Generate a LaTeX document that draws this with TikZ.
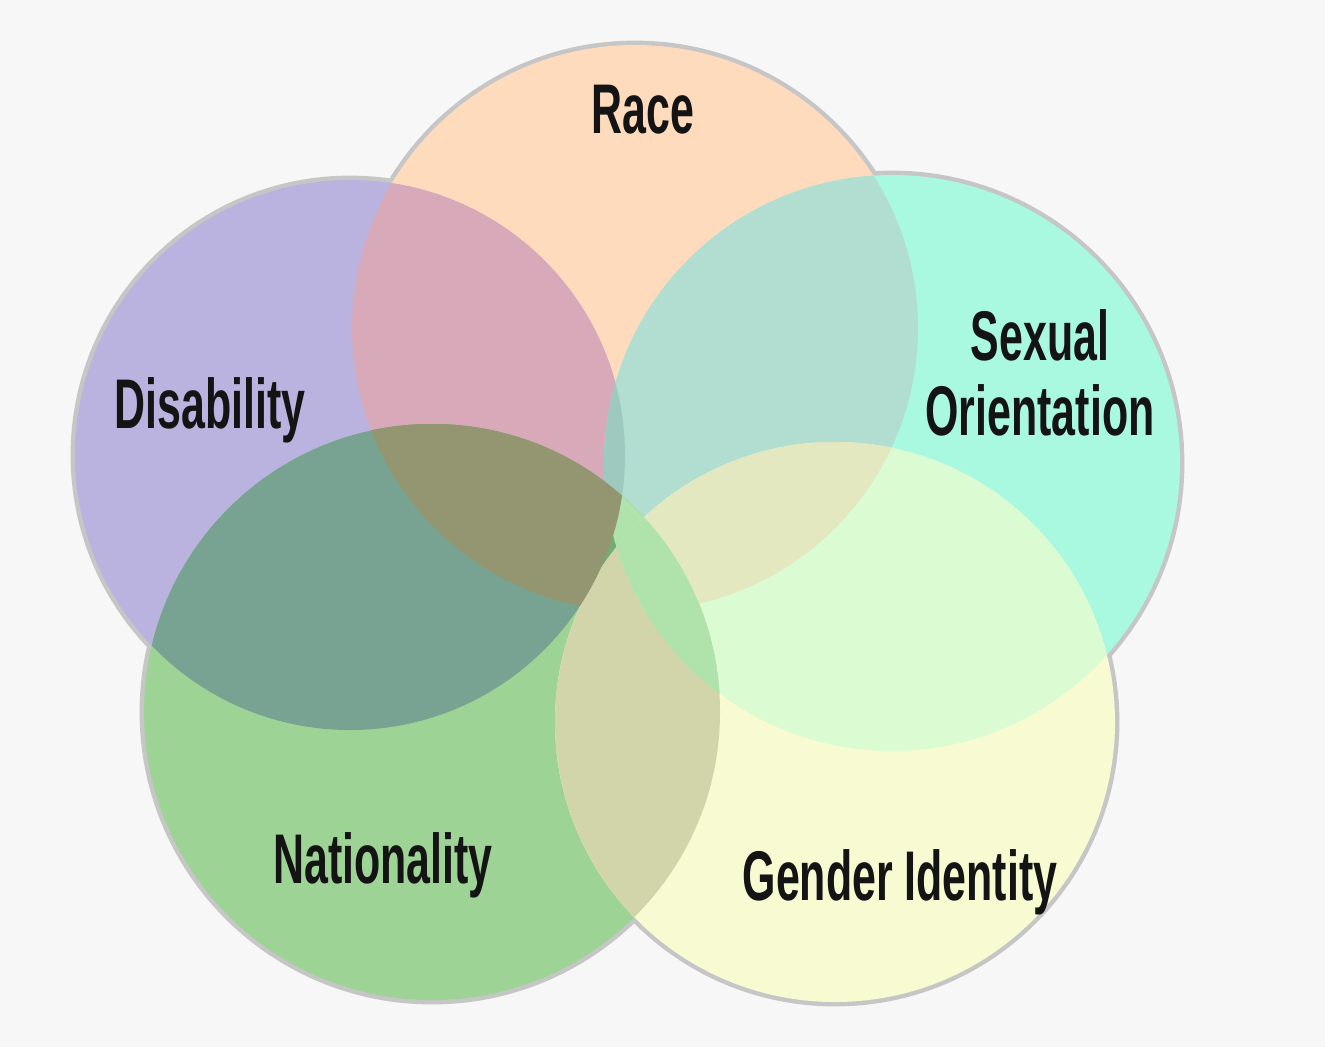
\documentclass[tikz,border=0pt]{standalone}
\usepackage{fontspec}
\newfontfamily\vennfont[FakeStretch=0.61]{Liberation Sans}
\definecolor{bgcol}{HTML}{F7F7F7}
\definecolor{rimcol}{HTML}{C6C6C6}
\definecolor{labelcol}{HTML}{141414}
% single sets
\definecolor{racecol}{HTML}{FEDBBD}
\definecolor{discol}{HTML}{BAB3E0}
\definecolor{sexcol}{HTML}{A9F8E0}
\definecolor{natcol}{HTML}{9ED396}
\definecolor{gencol}{HTML}{F8FBD2}
% overlaps
\definecolor{rdcol}{HTML}{D8A9B9}
\definecolor{rscol}{HTML}{B2DED2}
\definecolor{dncol}{HTML}{78A392}
\definecolor{rncol}{HTML}{72AE74}
\definecolor{rgcol}{HTML}{E4E8C0}
\definecolor{ngcol}{HTML}{D2D5A9}
\definecolor{sgcol}{HTML}{DBFBD3}
\definecolor{nscol}{HTML}{B0E3AC}
\definecolor{rdncol}{HTML}{939670}
\definecolor{rdscol}{HTML}{9DC9BE}
\definecolor{rsgcol}{HTML}{E4E8C0}

\tikzstyle{venntext} = [font=\vennfont\bfseries\fontsize{20}{22}\selectfont,
text=labelcol,
anchor=base,
inner sep=0pt]
\tikzstyle{rim} = [draw=rimcol, line width=2.5pt]

\newcommand{\racecirc}{(635,328) circle[radius=283]}
\newcommand{\discirc}{(350,455) circle[radius=275]}
\newcommand{\sexcirc}{(892,463) circle[radius=288]}
\newcommand{\natcirc}{(432,712) circle[radius=288]}
\newcommand{\gencirc}{(835,722) circle[radius=280]}

\begin{document}
\begin{tikzpicture}[x=0.01cm, y=-0.01cm]

\fill[bgcol] (0,0) rectangle (1325,1047);

% soft rim round the whole group
\draw[rim] \racecirc;
\draw[rim] \discirc;
\draw[rim] \sexcirc;
\draw[rim] \natcirc;
\draw[rim] \gencirc;

\fill[racecol] \racecirc;
\fill[discol] \discirc;
\fill[sexcol] \sexcirc;
\fill[natcol] \natcirc;
\fill[gencol] \gencirc;

% two-way overlaps
\begin{scope} \clip \racecirc; \fill[rdcol] \discirc; \end{scope}
\begin{scope} \clip \racecirc; \fill[rscol] \sexcirc; \end{scope}
\begin{scope} \clip \discirc; \fill[dncol] \natcirc; \end{scope}
\begin{scope} \clip \racecirc; \fill[rncol] \natcirc; \end{scope}
\begin{scope} \clip \racecirc; \fill[rgcol] \gencirc; \end{scope}
\begin{scope} \clip \sexcirc; \fill[sgcol] \gencirc; \end{scope}
\begin{scope} \clip \natcirc; \fill[ngcol] \gencirc; \end{scope}
\begin{scope} \clip \natcirc; \fill[nscol] \sexcirc; \end{scope}

% three-way overlaps
\begin{scope} \clip \racecirc; \clip \sexcirc; \fill[rsgcol] \gencirc; \end{scope}
\begin{scope} \clip \natcirc; \clip \sexcirc; \fill[nscol] \gencirc; \end{scope}
\begin{scope} \clip \racecirc; \clip \discirc; \fill[rdscol] \sexcirc; \end{scope}
\begin{scope} \clip \racecirc; \clip \discirc; \fill[rdncol] \natcirc; \end{scope}

\node[venntext] (race) at (643,133) {Race};
\node[venntext] (disab) at (210,428) {Disability};
\node[venntext] (sexual) at (1040,360) {Sexual};
\node[venntext] (orient) at (1040,435) {Orientation};
\node[venntext] (nation) at (383,883) {Nationality};
\node[venntext] (gender) at (900,900) {Gender Identity};

\end{tikzpicture}
\end{document}
